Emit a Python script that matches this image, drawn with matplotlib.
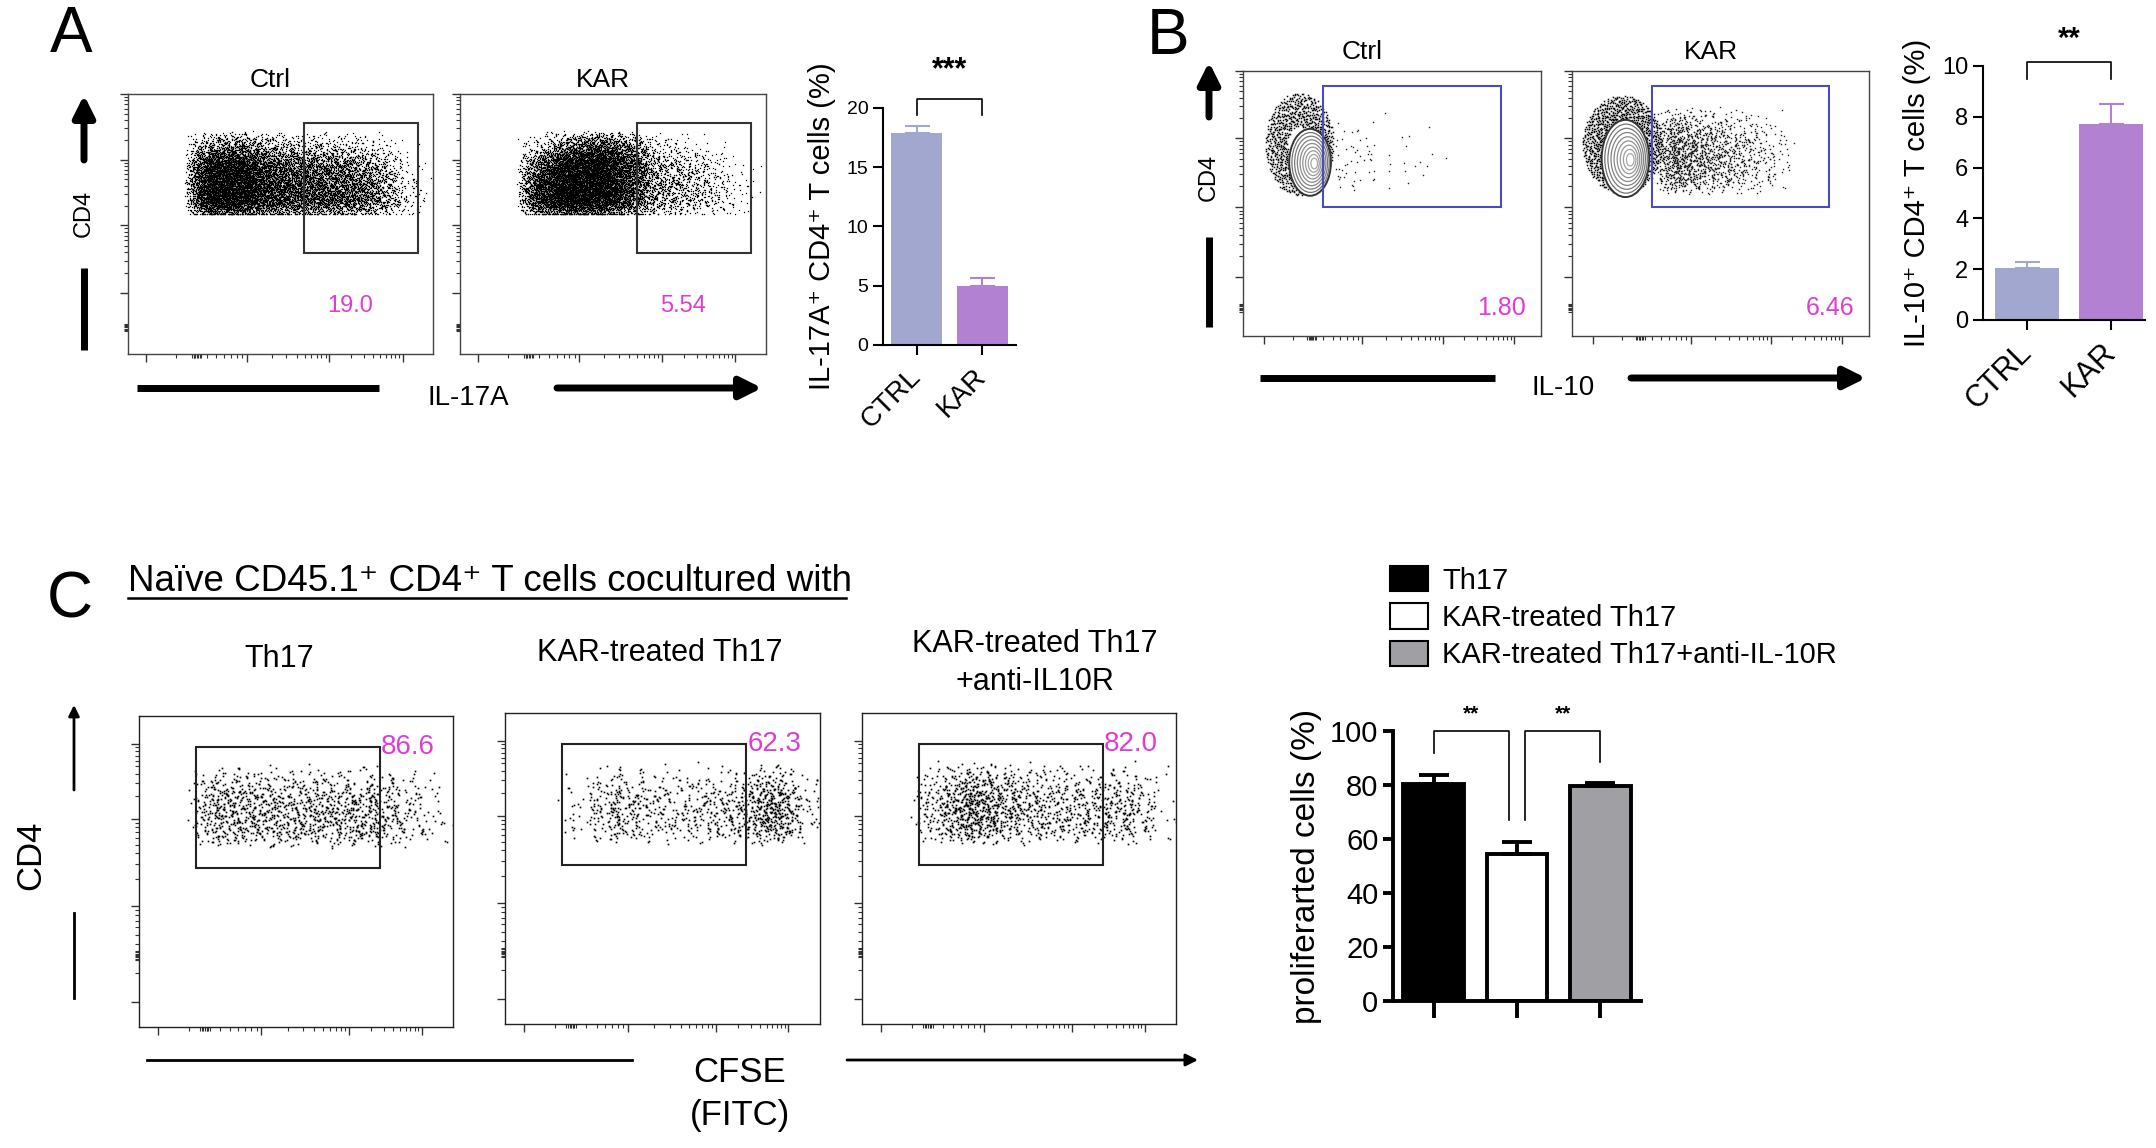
import numpy as np
import matplotlib.pyplot as plt
from matplotlib.patches import Ellipse, Rectangle, Patch

W, H = 2156, 1148
plt.rcParams['font.family'] = ['Liberation Sans', 'DejaVu Sans']
MAG = '#E03CD4'

# ---------------- data ----------------
# A: IL-17A flow plots
a_titles = ['Ctrl', 'KAR']
a_pct = ['19.0', '5.54']
a_gate = [0.577, 0.95, 0.40, 0.915]          # x0, x1, y0, y1
a_xedges = [0.23, 0.32, 0.41, 0.50, 0.59, 0.68, 0.77, 0.86, 0.95]
a_yedges = [0.57, 0.64, 0.71, 0.78, 0.85]
a_dens = [
    [[900, 900, 600, 480, 460, 420, 280, 60],
     [900, 900, 560, 450, 440, 380, 240, 40],
     [750, 800, 450, 360, 330, 280, 170, 20],
     [260, 340, 180, 130, 110, 90, 40, 5]],
    [[700, 1000, 900, 500, 180, 130, 80, 20],
     [700, 1000, 950, 550, 190, 140, 80, 15],
     [450, 900, 950, 560, 160, 110, 50, 8],
     [100, 380, 550, 330, 60, 30, 10, 0]],
]
# A: bar chart
a_groups = ['CTRL', 'KAR']
a_mean = [17.9, 5.0]
a_sem = [0.6, 0.65]
a_colors = ['#A2A7D0', '#B281D2']

# B: IL-10 flow plots
b_titles = ['Ctrl', 'KAR']
b_pct = ['1.80', '6.46']
b_gate = [0.27, 0.865, 0.50, 0.97]
b_halo = [[0.19, 0.745, 0.23, 0.40], [0.17, 0.745, 0.27, 0.38]]   # cx, cy, w, h
b_core = [[0.225, 0.675, 0.14, 0.26], [0.18, 0.69, 0.16, 0.30]]
b_halo_n = [1000, 1300]
b_xedges = [0.31, 0.38, 0.45, 0.52, 0.59, 0.66, 0.73]
b_yedges = [0.58, 0.65, 0.72, 0.79, 0.86]
b_dens = [
    [[9, 5, 3, 2, 1, 0],
     [10, 6, 4, 3, 2, 1],
     [8, 4, 2, 1, 1, 0],
     [3, 2, 1, 0, 0, 0]],
    [[140, 95, 70, 50, 28, 10],
     [170, 125, 90, 65, 38, 15],
     [155, 110, 80, 55, 32, 12],
     [85, 55, 35, 25, 12, 5]],
]
# B: bar chart
b_groups = ['CTRL', 'KAR']
b_mean = [2.05, 7.7]
b_sem = [0.25, 0.8]
b_colors = ['#A2A7D0', '#B281D2']

# C: CFSE flow plots
c_titles = ['Th17', 'KAR-treated Th17', 'KAR-treated Th17\n+anti-IL10R']
c_pct = ['86.6', '62.3', '82.0']
c_gate = [0.18, 0.766, 0.51, 0.90]
c_xedges = [0.20, 0.30, 0.40, 0.50, 0.60, 0.70, 0.80, 0.90, 1.00]
c_yedges = [0.60, 0.655, 0.71, 0.765, 0.82]
c_dens = [
    [[60, 60, 55, 60, 60, 65, 25, 8],
     [80, 70, 60, 65, 65, 70, 30, 8],
     [70, 60, 55, 55, 55, 55, 25, 6],
     [35, 30, 25, 25, 25, 25, 12, 3]],
    [[10, 45, 30, 25, 35, 45, 110, 15],
     [15, 60, 35, 30, 40, 50, 140, 20],
     [10, 50, 30, 25, 30, 40, 110, 15],
     [3, 20, 12, 10, 12, 15, 40, 5]],
    [[40, 110, 60, 45, 40, 45, 45, 8],
     [60, 140, 80, 55, 45, 50, 55, 10],
     [50, 120, 70, 45, 40, 40, 45, 8],
     [25, 60, 40, 25, 20, 20, 20, 3]],
]
# C: bar chart
c_groups = ['Th17', 'KAR-treated Th17', 'KAR-treated Th17+anti-IL-10R']
c_mean = [80.5, 54.5, 79.5]
c_sem = [3.3, 4.5, 1.3]
c_colors = ['#000000', '#FFFFFF', '#A0A0A4']


def halton(n, base, start):
    i = np.arange(start, start + n, dtype=float)
    r = np.zeros(n)
    f = 1.0
    while i.max() > 0:
        f /= base
        r += f * (i % base)
        i = np.floor(i / base)
    return r


def grid_dots(xedges, yedges, dens, clip_bottom=False):
    # each cell spreads its dots with a triangular kernel, so neighbours blend
    xs, ys = [], []
    k = 1
    for r, row in enumerate(dens):
        for c, n in enumerate(row):
            if n == 0:
                continue
            x0, x1 = xedges[c], xedges[c + 1]
            y0, y1 = yedges[r], yedges[r + 1]
            u = halton(n, 2, k) + halton(n, 5, k) - 0.5
            v = halton(n, 3, k) + halton(n, 7, k) - 0.5
            k += n
            xs.append(x0 + u * (x1 - x0))
            ys.append(y0 + v * (y1 - y0))
    x = np.concatenate(xs)
    y = np.concatenate(ys)
    if clip_bottom:
        y = np.clip(y, yedges[0] - 0.015, None)
    return x, y


def minor_ticks(maj, cluster):
    out = []
    for a, b in zip(maj[:-1], maj[1:]):
        out += [a + (b - a) * np.log10(k) for k in range(2, 10)]
    out += [cluster + d for d in np.linspace(-0.015, 0.015, 7)]
    return out


def px_axes(x0, y0, x1, y1):
    return fig.add_axes([x0 / W, 1 - y1 / H, (x1 - x0) / W, (y1 - y0) / H])


def flow_axes(rect, xmaj, ymaj, xclu, yclu):
    ax = px_axes(*rect)
    ax.set_xlim(0, 1)
    ax.set_ylim(0, 1)
    for s in ax.spines.values():
        s.set_color('#444444')
        s.set_linewidth(1.0)
    ax.set_xticks(xmaj)
    ax.set_yticks(ymaj)
    ax.set_xticks(minor_ticks(xmaj, xclu), minor=True)
    ax.set_yticks(minor_ticks(ymaj, yclu), minor=True)
    ax.tick_params(which='major', length=6, width=1, color='#333333',
                   labelbottom=False, labelleft=False)
    ax.tick_params(which='minor', length=3, width=0.8, color='#333333')
    return ax


def prism_bars(ax, means, sems, colors, width, xlim, ytop, yticks,
               lw, labsize, edge=None, ecolor=None, cap=8):
    x = np.arange(len(means))
    if edge is None:
        ax.bar(x, means, width, color=colors, linewidth=0, zorder=2)
    else:
        ax.bar(x, means, width, color=colors, edgecolor=edge, linewidth=lw, zorder=2)
    ecolor = ecolor or colors
    for xi, m, s, c in zip(x, means, sems, ecolor):
        ax.errorbar(xi, m, yerr=[[0], [s]], fmt='none', ecolor=c,
                    elinewidth=lw, capsize=cap, capthick=lw, zorder=3)
    ax.set_xlim(*xlim)
    ax.set_ylim(0, ytop)
    ax.set_yticks(yticks)
    ax.set_xticks(x)
    for s in ['top', 'right']:
        ax.spines[s].set_visible(False)
    for s in ['left', 'bottom']:
        ax.spines[s].set_linewidth(lw)
    ax.tick_params(length=7, width=lw, labelsize=labsize)
    return x


fig = plt.figure(figsize=(W / 100, H / 100), dpi=100)
ov = fig.add_axes([0, 0, 1, 1], zorder=10)
ov.set_xlim(0, W)
ov.set_ylim(H, 0)
ov.axis('off')

arrow_kw = dict(arrowstyle='-|>', lw=5, mutation_scale=32, color='k',
                shrinkA=0, shrinkB=0)

# ---------------- panel A ----------------
a_rects = [(128, 94, 433, 354), (460, 94, 766, 354)]
a_tx = [270, 603]
for i, rect in enumerate(a_rects):
    ax = flow_axes(rect, [0.058, 0.39, 0.66, 0.90], [0.24, 0.51, 0.77, 1.03], 0.225, 0.105)
    x, y = grid_dots(a_xedges, a_yedges, a_dens[i], clip_bottom=True)
    ax.plot(x, y, 's', ms=0.9, mew=0, color='k')
    g = a_gate
    ax.add_patch(Rectangle((g[0], g[2]), g[1] - g[0], g[3] - g[2], fill=False,
                           ec='#333333', lw=1.5, zorder=5))
    ax.text(0.73, 0.19, a_pct[i], color=MAG, fontsize=17, ha='center', va='center')
    ov.text(a_tx[i], 80, a_titles[i], fontsize=19, ha='center', va='center')

ov.text(71, 35, 'A', fontsize=46, ha='center', va='center')
ov.text(84, 213, 'CD4', fontsize=17, rotation=90, ha='center', va='center')
ov.annotate('', xy=(84, 95), xytext=(84, 160), arrowprops=arrow_kw)
ov.plot([84, 84], [268, 350], lw=5, color='k', solid_capstyle='butt')
ov.plot([137, 379], [388, 388], lw=5, color='k', solid_capstyle='butt')
ov.text(468, 398, 'IL-17A', fontsize=20, ha='center', va='center')
ov.annotate('', xy=(762, 388), xytext=(557, 388), arrowprops=arrow_kw)

axa = px_axes(883, 108, 1016, 345)
xa = prism_bars(axa, a_mean, a_sem, a_colors, 0.78, (-0.52, 1.52), 20,
                [0, 5, 10, 15, 20], 1.5, 14, cap=9)
axa.set_xticklabels(a_groups, rotation=45, ha='right', va='center',
                    rotation_mode='anchor', fontsize=20)
axa.tick_params(axis='x', pad=13)
axa.set_ylabel('IL-17A⁺ CD4⁺ T cells (%)', fontsize=21, labelpad=8)
axa.plot([0, 0, 1, 1], [19.4, 20.8, 20.8, 19.4], color='k', lw=1.2, clip_on=False)
axa.text(0.5, 21.9, '***', ha='center', va='bottom', fontsize=22, fontweight='bold')

# ---------------- panel B ----------------
b_rects = [(1243, 71, 1541, 336), (1572, 71, 1869, 336)]
b_tx = [1362, 1711]
for i, rect in enumerate(b_rects):
    ax = flow_axes(rect, [0.07, 0.40, 0.67, 0.91], [0.23, 0.50, 0.77, 1.03], 0.23, 0.11)
    x, y = grid_dots(b_xedges, b_yedges, b_dens[i])
    ax.plot(x, y, 's', ms=1.0, mew=0, color='#222222')
    # black halo of dots around the contoured population, densest near the core
    cx, cy, w, h = b_halo[i]
    n = b_halo_n[i]
    ang = 2 * np.pi * halton(n, 2, 1)
    rad = 0.35 + 0.65 * halton(n, 3, 1) ** 0.8
    ax.plot(cx + 0.5 * w * rad * np.cos(ang), cy + 0.5 * h * rad * np.sin(ang),
            's', ms=1.1, mew=0, color='#0A0A0A')
    # grey contour lines
    cx, cy, w, h = b_core[i]
    ax.add_patch(Ellipse((cx, cy), w, h, fc='white', ec='#333333', lw=1.4, zorder=3))
    for j in range(1, 9):
        s = 1 - j * 0.105
        ax.add_patch(Ellipse((cx + (1 - s) * w * 0.12, cy - (1 - s) * h * 0.02),
                             w * s, h * s, fill=False,
                             ec=str(0.42 + 0.03 * j), lw=0.9, zorder=4))
    g = b_gate
    ax.add_patch(Rectangle((g[0], g[2]), g[1] - g[0], g[3] - g[2], fill=False,
                           ec='#4B4BC0', lw=1.5, zorder=5))
    ax.text(0.95, 0.11, b_pct[i], color=MAG, fontsize=18, ha='right', va='center')
    ov.text(b_tx[i], 52, b_titles[i], fontsize=19, ha='center', va='center')

ov.text(1168, 37, 'B', fontsize=46, ha='center', va='center')
ov.text(1209, 177, 'CD4', fontsize=17, rotation=90, ha='center', va='center')
ov.annotate('', xy=(1209, 62), xytext=(1209, 117), arrowprops=arrow_kw)
ov.plot([1209, 1209], [237, 327], lw=5, color='k', solid_capstyle='butt')
ov.plot([1260, 1495], [378, 378], lw=5, color='k', solid_capstyle='butt')
ov.text(1563, 388, 'IL-10', fontsize=20, ha='center', va='center')
ov.annotate('', xy=(1866, 378), xytext=(1631, 378), arrowprops=arrow_kw)

axb = px_axes(1983, 66, 2145, 320)
xb = prism_bars(axb, b_mean, b_sem, b_colors, 0.76, (-0.52, 1.40), 10,
                [0, 2, 4, 6, 8, 10], 1.5, 17, cap=9)
axb.set_xticklabels(b_groups, rotation=45, ha='right', va='center',
                    rotation_mode='anchor', fontsize=22)
axb.tick_params(axis='x', pad=13)
axb.set_ylabel('IL-10⁺ CD4⁺ T cells (%)', fontsize=21, labelpad=8)
axb.plot([0, 0, 1, 1], [9.5, 10.16, 10.16, 9.5], color='k', lw=1.2, clip_on=False)
axb.text(0.5, 10.5, '**', ha='center', va='bottom', fontsize=21, fontweight='bold')

# ---------------- panel C ----------------
c_rects = [(139, 716, 453, 1027), (505, 713, 820, 1024), (862, 713, 1176, 1024)]
for i, rect in enumerate(c_rects):
    ax = flow_axes(rect, [0.06, 0.39, 0.67, 0.90], [0.08, 0.39, 0.67, 0.91], 0.21, 0.23)
    for s in ax.spines.values():
        s.set_color('#222222')
    x, y = grid_dots(c_xedges, c_yedges, c_dens[i])
    ax.plot(x, y, 's', ms=1.2, mew=0, color='k')
    g = c_gate
    ax.add_patch(Rectangle((g[0], g[2]), g[1] - g[0], g[3] - g[2], fill=False,
                           ec='#222222', lw=1.5, zorder=5))
    ax.text(g[1] + 0.005, g[3], c_pct[i], color=MAG, fontsize=20, ha='left', va='center')

ov.text(70, 600, 'C', fontsize=46, ha='center', va='center')
ov.text(128, 591, 'Naïve CD45.1⁺ CD4⁺ T cells cocultured with', fontsize=26.5,
        ha='left', va='baseline')
ov.plot([128, 846], [598, 598], lw=1.8, color='k')
ov.text(279, 659, c_titles[0], fontsize=22, ha='center', va='center')
ov.text(660, 653, c_titles[1], fontsize=22, ha='center', va='center')
ov.text(1035, 663, c_titles[2], fontsize=22, ha='center', va='center',
        linespacing=1.35)
ov.text(31, 855, 'CD4', fontsize=25, rotation=90, ha='center', va='center')
ov.annotate('', xy=(74, 705), xytext=(74, 790),
            arrowprops=dict(arrowstyle='-|>', lw=2, mutation_scale=16, color='k',
                            shrinkA=0, shrinkB=0))
ov.plot([74, 74], [913, 998], lw=2, color='k')
ov.plot([147, 632], [1060, 1060], lw=2, color='k')
ov.text(740, 1072, 'CFSE', fontsize=25, ha='center', va='center')
ov.text(740, 1115, '(FITC)', fontsize=25, ha='center', va='center')
ov.annotate('', xy=(1198, 1060), xytext=(847, 1060),
            arrowprops=dict(arrowstyle='-|>', lw=2, mutation_scale=18, color='k',
                            shrinkA=0, shrinkB=0))

axc = px_axes(1393, 731, 1641, 1001)
xc = prism_bars(axc, c_mean, c_sem, c_colors, 0.73, (-0.49, 2.49), 100,
                [0, 20, 40, 60, 80, 100], 2.8, 21, edge='k',
                ecolor=['k', 'k', 'k'], cap=11)
axc.set_xticklabels([])
axc.tick_params(axis='x', length=12)
axc.set_ylabel('proliferarted cells (%)', fontsize=24, labelpad=6)
axc.plot([0, 0, 0.9, 0.9], [91.8, 100, 100, 67], color='k', lw=1.2, clip_on=False)
axc.plot([1.1, 1.1, 2, 2], [67, 100, 100, 88.5], color='k', lw=1.2, clip_on=False)
axc.text(0.45, 103, '**', ha='center', va='bottom', fontsize=15, fontweight='bold')
axc.text(1.55, 103, '**', ha='center', va='bottom', fontsize=15, fontweight='bold')

handles = [Patch(fc=c, ec='k', lw=1.5) for c in c_colors]
fig.legend(handles, c_groups, loc='upper left', bbox_to_anchor=(1390 / W, 1 - 566 / H),
           frameon=False, fontsize=21, handlelength=1.3, handleheight=0.95,
           labelspacing=0.3, handletextpad=0.5, borderaxespad=0, borderpad=0)

fig.savefig('out.png', dpi=100, facecolor='white')
